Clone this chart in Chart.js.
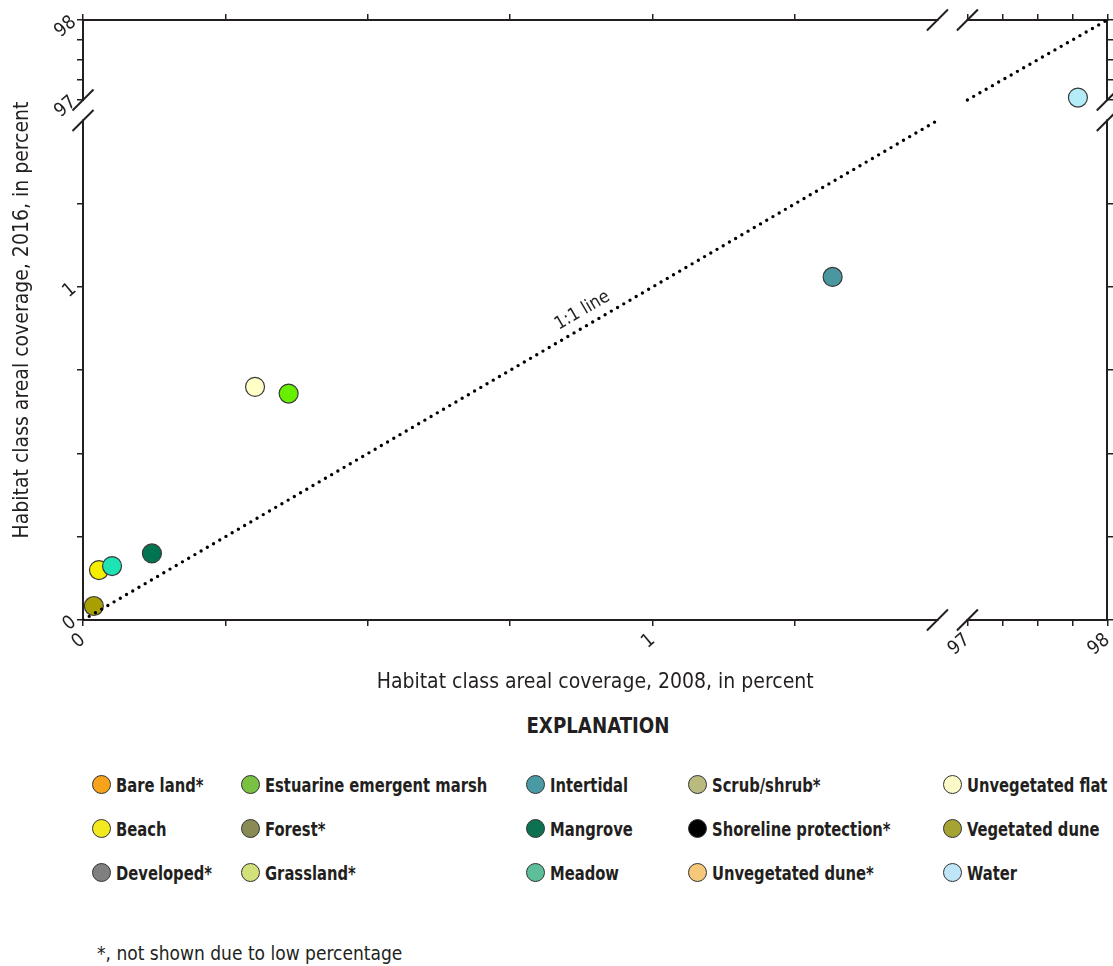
<!DOCTYPE html>
<html>
<head>
<meta charset="utf-8">
<script src="https://cdn.jsdelivr.net/npm/chart.js@4.4.1/dist/chart.umd.min.js"></script>
<style>
  body { margin: 0; background: #fff; color: #231f20; overflow: hidden;
         font-family: 'Liberation Sans Narrow', 'DejaVu Sans Condensed', Roboto, sans-serif; }
  #wrap { position: absolute; left: 0; top: 0; width: 1118px; height: 700px; }
  #expl { position: absolute; left: 448px; top: 713px; width: 300px; text-align: center;
          font-weight: bold; font-size: 22px; transform: scaleX(0.92); }
  .item { position: absolute; font-weight: bold; font-size: 20px; white-space: nowrap;
          line-height: 24px; height: 24px; }
  .dot { position: absolute; left: 0; top: 2px; width: 17px; height: 17px; border-radius: 50%;
         border: 1px solid #333; }
  .item span.t { position: absolute; left: 24px; top: 0; transform: scaleX(0.82); transform-origin: 0 50%; }
  #note { position: absolute; left: 97px; top: 942px; font-size: 19px; }
</style>
</head>
<body>
<div id="wrap"><canvas id="chart1"></canvas></div>
<div id="expl">EXPLANATION</div>
<div id="legend"></div>
<div id="note">*, not shown due to low percentage</div>
<script>
// habitat classes, in legend order
const categories = ['Bare land*', 'Beach', 'Developed*', 'Estuarine emergent marsh', 'Forest*',
  'Grassland*', 'Intertidal', 'Mangrove', 'Meadow', 'Scrub/shrub*', 'Shoreline protection*',
  'Unvegetated dune*', 'Unvegetated flat', 'Vegetated dune', 'Water'];
// percent coverage (null = not shown)
const cover2008 = [null, 0.028, null, 0.361, null, null, 1.316, 0.121, 0.051, null, null, null, 0.302, 0.019, 97.79];
const cover2016 = [null, 0.150, null, 0.680, null, null, 1.030, 0.200, 0.162, null, null, null, 0.700, 0.042, 97.03];

const markerColors = ['#f7a21b', '#f5ee00', '#808080', '#66f000', '#8a8a55', '#d4e07a', '#4a97a0',
  '#007350', '#1de3b5', '#b8ba80', '#000000', '#f6c87a', '#ffffc8', '#a8a000', '#b5ecfa'];
const legendColors = ['#f7a21b', '#f2ea1e', '#808080', '#7ac143', '#8a8a55', '#d4e07a', '#4a9aa5',
  '#0d7050', '#5dbf9a', '#b8ba80', '#000000', '#f6c87a', '#fbfac8', '#a5a432', '#bfe6f8'];

const tickValues = [0, 0.25, 0.5, 0.75, 1, 1.25, 97, 97.25, 97.5, 97.75, 98];
const tickLabels = ['0', '', '', '', '1', '', '97', '', '', '', '98'];
const oneToOne = [0, 1.5, null, 97, 98];

// broken axes: 0-1.5, gap, 97-98
const tx = v => v <= 1.5 ? v : 1.5 + 0.0526 + (v - 97) * 0.2456;
const ty = v => v <= 1.5 ? v : 1.5 + 0.0616 + (v - 97) * 0.24;

const ink = '#231f20';
const fam = "'Liberation Sans Narrow', 'DejaVu Sans Condensed', Roboto, sans-serif";
Chart.defaults.font.family = fam;
Chart.defaults.color = ink;

function setTicks(fn) {
  return function (scale) {
    scale.ticks = tickValues.map(v => ({ value: fn(v) }));
  };
}

function axis(pos, fn, max, showLabels, size) {
  return {
    type: 'linear', position: pos, min: 0, max: max,
    afterBuildTicks: setTicks(fn),
    afterFit: s => {
      if (pos === 'left' || pos === 'right') { s.width = size; s.paddingTop = 0; s.paddingBottom = 0; }
      else { s.height = size; s.paddingLeft = 0; s.paddingRight = 0; }
    },
    grid: { drawOnChartArea: false, drawTicks: true, tickLength: 6, color: ink, lineWidth: 1.5 },
    border: { display: true, color: ink, width: 2 },
    ticks: {
      display: showLabels, autoSkip: false, minRotation: 40, maxRotation: 40, padding: 3,
      font: { size: 19 }, color: ink,
      callback: (val, i) => tickLabels[i]
    }
  };
}

const breaksPlugin = {
  id: 'breaks',
  afterDraw(chart) {
    const { ctx, chartArea: a, scales } = chart;
    const x1 = scales.x.getPixelForValue(tx(1.5)), x2 = scales.x.getPixelForValue(tx(97));
    const y1 = scales.y.getPixelForValue(ty(1.5)), y2 = scales.y.getPixelForValue(ty(97));
    ctx.save();
    ctx.fillStyle = '#fff';
    ctx.fillRect(x1 + 1, a.top - 2, x2 - x1 - 2, 4);
    ctx.fillRect(x1 + 1, a.bottom - 2, x2 - x1 - 2, 4);
    ctx.fillRect(a.left - 2, y2 + 1, 4, y1 - y2 - 2);
    ctx.fillRect(a.right - 2, y2 + 1, 4, y1 - y2 - 2);
    ctx.strokeStyle = ink;
    ctx.lineWidth = 2;
    const slash = (cx, cy) => {
      ctx.beginPath();
      ctx.moveTo(cx - 10.5, cy + 10.5);
      ctx.lineTo(cx + 10.5, cy - 10.5);
      ctx.stroke();
    };
    [x1, x2].forEach(cx => { slash(cx, a.top); slash(cx, a.bottom); });
    [y1, y2].forEach(cy => { slash(a.left, cy); slash(a.right, cy); });

    // 1:1 line label
    const p0x = scales.x.getPixelForValue(0), p0y = scales.y.getPixelForValue(0);
    const p1x = scales.x.getPixelForValue(1.5), p1y = scales.y.getPixelForValue(1.5);
    const ang = Math.atan2(p1y - p0y, p1x - p0x);
    const px = scales.x.getPixelForValue(0.89), py = scales.y.getPixelForValue(0.89);
    ctx.translate(px + 15 * Math.sin(ang), py - 15 * Math.cos(ang));
    ctx.rotate(ang);
    ctx.fillStyle = ink;
    ctx.font = '18px ' + fam;
    ctx.textAlign = 'center';
    ctx.textBaseline = 'middle';
    ctx.fillText('1:1 line', 0, 0);
    ctx.restore();
  }
};

const points = [];
const pointColors = [];
categories.forEach((c, i) => {
  if (cover2008[i] === null) return;
  points.push({ x: tx(cover2008[i]), y: ty(cover2016[i]) });
  pointColors.push(markerColors[i]);
});

let chart1 = document.getElementById('chart1').getContext('2d');

let scatterChart = new Chart(chart1, {
  type: 'scatter',
  data: {
    datasets: [{
      type: 'line',
      label: '1:1 line',
      data: oneToOne.map(v => ({ x: v === null ? tx(1.5) : tx(v), y: v === null ? null : ty(v) })),
      borderColor: '#000',
      borderWidth: 3.4,
      borderDash: [0, 7.2],
      borderCapStyle: 'round',
      pointRadius: 0,
      spanGaps: false,
      fill: false
    },
    {
      label: 'Habitat classes',
      data: points,
      backgroundColor: pointColors,
      borderColor: '#3a3a3a',
      borderWidth: 1.2,
      pointRadius: 9.5,
      pointHoverRadius: 9.5
    }]
  },
  options: {
    responsive: true,
    maintainAspectRatio: false,
    animation: false,
    layout: { padding: 0 },
    plugins: { legend: { display: false }, tooltip: { enabled: false } },
    scales: {
      x: Object.assign(axis('bottom', tx, tx(98), true, 80), {
        title: { display: true, text: 'Habitat class areal coverage, 2008, in percent',
                 font: { size: 21 }, color: ink, padding: { top: 4, bottom: 5 } }
      }),
      x2: axis('top', tx, tx(98), false, 20),
      y: Object.assign(axis('left', ty, ty(98), true, 83), {
        title: { display: true, text: 'Habitat class areal coverage, 2016, in percent',
                 font: { size: 21 }, color: ink, padding: { top: 10, bottom: 4 } }
      }),
      y2: axis('right', ty, ty(98), false, 5)
    }
  },
  plugins: [breaksPlugin]
});

// legend grid, column-major
const colX = [92, 241, 526, 688, 943];
const rowY = [773, 817, 861];
let legend = document.getElementById('legend');
categories.forEach((c, i) => {
  let d = document.createElement('div');
  d.className = 'item';
  d.style.left = colX[Math.floor(i / 3)] + 'px';
  d.style.top = rowY[i % 3] + 'px';
  d.innerHTML = '<span class="dot" style="background:' + legendColors[i] + '"></span><span class="t">' + c + '</span>';
  legend.appendChild(d);
});
</script>
</body>
</html>
